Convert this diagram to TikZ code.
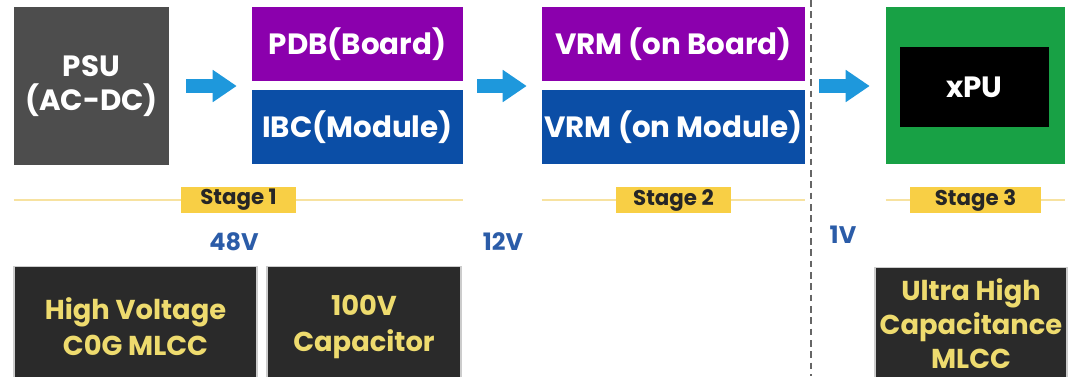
\documentclass[tikz,border=0pt]{standalone}
\usepackage{fontspec}
\setmainfont{Poppins}
\usepackage{tikz}
\usetikzlibrary{positioning}
\usetikzlibrary{arrows.meta}
\definecolor{psugray}{HTML}{4D4D4D}
\definecolor{pdbpurple}{HTML}{8B00AD}
\definecolor{ibcblue}{HTML}{0B4EA6}
\definecolor{xpugreen}{HTML}{18A145}
\definecolor{arrowblue}{HTML}{1E98DC}
\definecolor{stageyellow}{HTML}{F8CF45}
\definecolor{stageline}{HTML}{F7E2A0}
\definecolor{voltblue}{HTML}{2B5CA8}
\definecolor{capdark}{HTML}{2A2A2A}
\definecolor{captext}{HTML}{EEDB6E}

\tikzset{
  block/.style={fill=#1, text=white, inner sep=0pt, align=center, font=\fontsize{22}{26}\selectfont\bfseries},
  flow/.style={arrowblue, line width=10.5pt, -{Triangle[length=18pt,width=23pt]}},
  stagerule/.style={stageline, line width=2pt},
  stagetag/.style={fill=stageyellow, text=black!85, inner sep=0pt, minimum height=20pt, font=\fontsize{16}{18}\selectfont\bfseries},
  volt/.style={text=voltblue, font=\fontsize{18}{20}\selectfont\bfseries},
  capbox/.style={fill=capdark, draw=black!20, line width=1pt, text=captext, anchor=north, inner sep=0pt, align=center, font=\fontsize{20.5}{27}\selectfont\bfseries, minimum height=90pt}
}

\begin{document}
\begin{tikzpicture}[x=0.75pt,y=0.75pt,yscale=-1,xscale=1]
\useasboundingbox (0,0) rectangle (1073,376);

%Shape: Rectangle [PSU]
\node[block=psugray, minimum width=116.25pt, minimum height=118.5pt] (psu) at (91.5,86) {PSU\\(AC-DC)};
%Shape: Rectangle [PDB / IBC]
\node[block=pdbpurple, minimum width=158.25pt, minimum height=55.5pt] (pdb) at (357.5,44) {PDB(Board)};
\node[block=ibcblue, minimum width=158.25pt, minimum height=55.5pt] (ibc) at (357.5,127) {IBC(Module)};
%Shape: Rectangle [VRM]
\node[block=pdbpurple, minimum width=197.25pt, minimum height=55.5pt] (vrmb) at (673.5,44) {VRM (on Board)};
\node[block=ibcblue, minimum width=197.25pt, minimum height=55.5pt] (vrmm) at (673.5,127) {VRM (on Module)};
%Shape: Rectangle [xPU]
\node[block=xpugreen, minimum width=134.25pt, minimum height=117.75pt] (board) at (975.5,85.5) {};
\node[block=black, minimum width=111.75pt, minimum height=60pt] (xpu) at (974.5,87) {xPU};

%Shape: Arrows
\draw[flow, shorten <=12.75pt, shorten >=11.25pt] (psu.east) -- (pdb.west |- psu.east);
\draw[flow, shorten <=10.5pt, shorten >=11.25pt] (ibc.east |- psu.east) -- (vrmb.west |- psu.east);
\draw[flow, shorten <=10.5pt, shorten >=12pt] (vrmm.east |- psu.east) -- (board.west |- psu.east);

%Shape: Dashed Line
\coordinate (cut top) at (811,0);
\coordinate (cut bottom) at (811,376);
\draw[black!60, line width=1pt, dash pattern=on 5pt off 3.5pt] (cut top) -- (cut bottom);

%Shape: Stage Lines
\draw[stagerule] (psu.west |- 0,200) -- (ibc.east |- 0,200) node[stagetag, midway, minimum width=86pt] (stage1) {Stage 1};
\draw[stagerule] (vrmm.west |- 0,200) -- (vrmm.east |- 0,200) node[stagetag, midway, minimum width=86pt] (stage2) {Stage 2};
\draw[stagerule] (board.west |- 0,200) -- (board.east |- 0,200) node[stagetag, midway, minimum width=98pt] (stage3) {Stage 3};

% Text Node
\node[volt] (v48) at (234,242) {48V};
\node[volt] (v12) at (503,242) {12V};
\node[volt] (v1) at (843,235) {1V};

%Shape: Capacitor Boxes
\node[capbox, minimum width=182.25pt] (hvcap) at (135.5,266) {High Voltage\\C0G MLCC};
\node[capbox, minimum width=145.5pt] (cap100) at (364,266) {100V\\Capacitor};
\node[capbox, minimum width=144pt, minimum height=84pt, font=\fontsize{20.5}{25.5}\selectfont\bfseries] (uhcap) at (971,267) {Ultra High\\Capacitance\\MLCC};
\path (uhcap.south) -- (971,376);

\end{tikzpicture}
\end{document}
